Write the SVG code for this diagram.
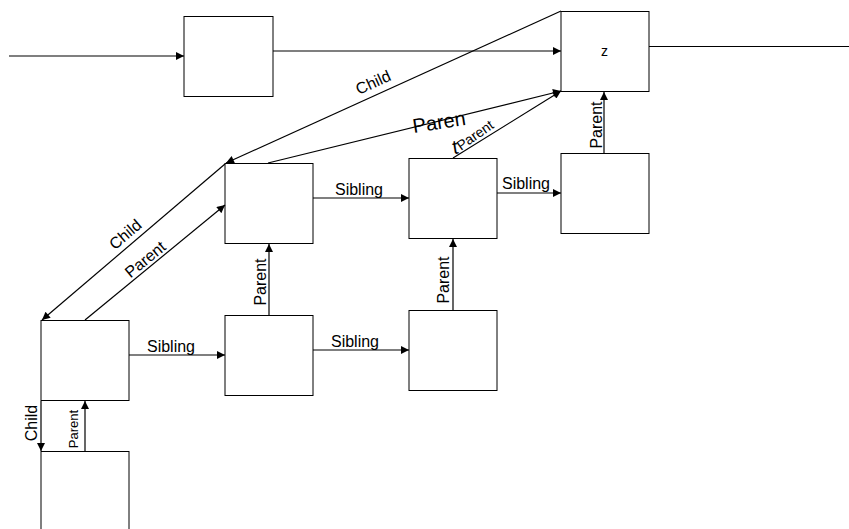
<svg xmlns="http://www.w3.org/2000/svg" width="849" height="529" viewBox="0 0 849 529">
  <style>
    .box { fill: #ffffff; stroke: #000000; stroke-width: 1; }
    .edge { fill: none; stroke: #000000; stroke-width: 1.2; }
    .lbl { font-family: "Liberation Sans", Arial, sans-serif; font-size: 16px; fill: #000000; text-anchor: middle; }
    .sm { font-size: 13px; }
    .big { font-size: 20px; }
  </style>
  <defs>
    <marker id="arrow" viewBox="0 0 10 10" refX="10" refY="5" markerWidth="9" markerHeight="8" markerUnits="userSpaceOnUse" orient="auto">
      <path d="M0,0 L10,5 L0,10 Z" fill="#000000"/>
    </marker>
  </defs>

  <!-- nodes -->
  <g id="node-entry"><rect class="box" x="184" y="16.5" width="89" height="80"/></g>
  <g id="node-z">
    <rect class="box" x="561" y="11.5" width="88" height="80"/>
    <text class="lbl" x="604.5" y="56" style="font-size:14px">z</text>
  </g>
  <g id="node-a"><rect class="box" x="225" y="163.5" width="88" height="80"/></g>
  <g id="node-b"><rect class="box" x="409" y="158.5" width="88" height="80"/></g>
  <g id="node-c"><rect class="box" x="561" y="153.5" width="88" height="80"/></g>
  <g id="node-d"><rect class="box" x="41" y="320.5" width="88" height="80"/></g>
  <g id="node-e"><rect class="box" x="225" y="315.5" width="88" height="80"/></g>
  <g id="node-f"><rect class="box" x="409" y="310.5" width="88" height="80"/></g>
  <g id="node-g"><rect class="box" x="41" y="451.5" width="88" height="90"/></g>

  <!-- connectors -->
  <g id="connectors">
    <line class="edge" x1="9" y1="56" x2="184" y2="56" marker-end="url(#arrow)"/>
    <line class="edge" x1="273" y1="51" x2="561" y2="51" marker-end="url(#arrow)"/>
    <line class="edge" x1="649" y1="46.5" x2="849" y2="46.5"/>

    <!-- z to a (Child) -->
    <line class="edge" x1="561" y1="11" x2="226" y2="163" marker-end="url(#arrow)"/>
    <text class="lbl" x="373" y="88" transform="rotate(-24.4 373 82)">Child</text>

    <!-- a to z (Parent) -->
    <line class="edge" x1="268" y1="163" x2="561" y2="91" marker-end="url(#arrow)"/>
    <text class="lbl big" transform="rotate(-9 439 122)"><tspan x="439" y="129">Paren</tspan><tspan x="451" y="156">t</tspan></text>

    <!-- b to z (Parent) -->
    <line class="edge" x1="453" y1="158" x2="561" y2="91" marker-end="url(#arrow)"/>
    <text class="lbl" x="475" y="140" style="font-size:14px" transform="rotate(-35 475 135)">Parent</text>

    <!-- c to z (Parent) -->
    <line class="edge" x1="604" y1="153" x2="604" y2="92" marker-end="url(#arrow)"/>
    <text class="lbl" x="596" y="131" transform="rotate(-90 596 125)">Parent</text>

    <!-- a to d (Child) -->
    <line class="edge" x1="225" y1="164" x2="42" y2="320" marker-end="url(#arrow)"/>
    <text class="lbl" x="125" y="240" transform="rotate(-40.5 125 234)">Child</text>

    <!-- d to a (Parent) -->
    <line class="edge" x1="85" y1="320" x2="225" y2="205" marker-end="url(#arrow)"/>
    <text class="lbl" x="145" y="265" transform="rotate(-39.4 145 259)">Parent</text>

    <!-- siblings -->
    <line class="edge" x1="313" y1="198" x2="409" y2="198" marker-end="url(#arrow)"/>
    <text class="lbl" x="359" y="195">Sibling</text>
    <line class="edge" x1="497" y1="193" x2="561" y2="193" marker-end="url(#arrow)"/>
    <text class="lbl" x="526" y="189">Sibling</text>
    <line class="edge" x1="129" y1="355" x2="225" y2="355" marker-end="url(#arrow)"/>
    <text class="lbl" x="171" y="352">Sibling</text>
    <line class="edge" x1="313" y1="350" x2="409" y2="350" marker-end="url(#arrow)"/>
    <text class="lbl" x="355" y="347">Sibling</text>

    <!-- e to a, f to b (Parent) -->
    <line class="edge" x1="269" y1="315" x2="269" y2="244" marker-end="url(#arrow)"/>
    <text class="lbl" x="260" y="288" transform="rotate(-90 260 282)">Parent</text>
    <line class="edge" x1="453" y1="310" x2="453" y2="239" marker-end="url(#arrow)"/>
    <text class="lbl" x="443" y="286" transform="rotate(-90 443 280)">Parent</text>

    <!-- d to g (Child), g to d (Parent) -->
    <line class="edge" x1="41" y1="401" x2="41" y2="451" marker-end="url(#arrow)"/>
    <text class="lbl" x="31" y="429" transform="rotate(-90 31 423)">Child</text>
    <line class="edge" x1="85" y1="451" x2="85" y2="401" marker-end="url(#arrow)"/>
    <text class="lbl sm" x="73" y="434" transform="rotate(-90 73 429)">Parent</text>
  </g>
</svg>
